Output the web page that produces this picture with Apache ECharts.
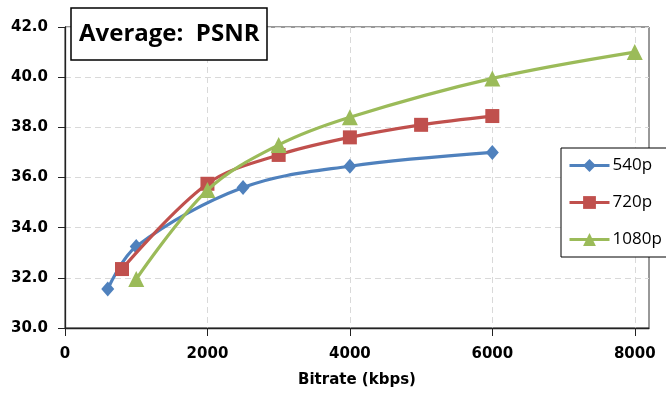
<!DOCTYPE html>
<html>
<head>
<meta charset="utf-8">
<script src="https://cdn.jsdelivr.net/npm/echarts@6/dist/echarts.min.js"></script>
<style>html,body{margin:0;padding:0;background:#fff;}#c{width:666px;height:393px;}</style>
</head>
<body>
<div id="c"></div>
<script>
var seriesNames = ['540p', '720p', '1080p'];
var bitrate540 = [600, 1000, 2500, 4000, 6000];
var psnr540 = [31.55, 33.25, 35.6, 36.45, 37.0];
var bitrate720 = [800, 2000, 3000, 4000, 5000, 6000];
var psnr720 = [32.35, 35.75, 36.9, 37.6, 38.1, 38.45];
var bitrate1080 = [1000, 2000, 3000, 4000, 6000, 8000];
var psnr1080 = [31.95, 35.5, 37.3, 38.4, 39.95, 41.0];
var xTicks = [0, 2000, 4000, 6000, 8000];
var titleText = 'Average:  PSNR';
var xName = 'Bitrate (kbps)';

function pairs(xs, ys) { return xs.map(function (x, i) { return [x, ys[i]]; }); }

var FONT = '"Open Sans", "Noto Sans", sans-serif';
var AXFONT = '"DejaVu Sans", sans-serif';
var chart = echarts.init(document.getElementById('c'), null, { renderer: 'canvas' });
var colors = ['#4F81BD', '#C0504D', '#9BBB59'];
var symbols = ['diamond', 'rect', 'triangle'];
var sizes = [[13, 15], 14, 16];
var datas = [pairs(bitrate540, psnr540), pairs(bitrate720, psnr720), pairs(bitrate1080, psnr1080)];

chart.setOption({
  animation: false,
  backgroundColor: '#fff',
  title: {
    text: titleText,
    left: 71, top: 8,
    padding: [12, 8, 12, 8],
    borderColor: '#000', borderWidth: 1.5,
    backgroundColor: '#fff',
    textStyle: { fontFamily: FONT, fontWeight: 'bold', fontSize: 24, color: '#000', lineHeight: 28 },
    z: 10
  },
  legend: {
    orient: 'vertical',
    left: 561, top: 148,
    padding: [9, 40, 9, 7],
    itemWidth: 40, itemHeight: 16, itemGap: 20,
    borderColor: '#000', borderWidth: 1,
    backgroundColor: '#fff',
    lineStyle: { width: 3 },
    textStyle: { fontFamily: FONT, fontSize: 17, color: '#000', padding: [0, 0, 0, -2] },
    data: seriesNames,
    z: 10
  },
  grid: {
    left: 65, top: 27, right: 17, bottom: 65,
    show: true, borderColor: '#333', borderWidth: 1, backgroundColor: 'transparent'
  },
  xAxis: {
    type: 'value', min: 0, max: 8200, interval: 2000,
    name: xName, nameLocation: 'middle', nameGap: 45,
    nameTextStyle: { fontFamily: AXFONT, fontWeight: 'bold', fontSize: 15, color: '#000' },
    axisLine: { show: true, lineStyle: { color: '#222', width: 1.3 } },
    axisTick: { show: true, length: 8, lineStyle: { color: '#222' }, customValues: xTicks },
    axisLabel: { fontFamily: AXFONT, fontWeight: 'bold', fontSize: 15, color: '#000', margin: 19,
      customValues: xTicks, formatter: function (v) { return String(v); } },
    splitLine: { show: true, lineStyle: { color: '#D9D9D9', type: [6, 4], width: 1 } }
  },
  yAxis: {
    type: 'value', min: 30, max: 42, interval: 2,
    axisLine: { show: true, lineStyle: { color: '#222', width: 1.3 } },
    axisTick: { show: true, length: 7, lineStyle: { color: '#222' } },
    axisLabel: { fontFamily: AXFONT, fontWeight: 'bold', fontSize: 15, color: '#000', margin: 17,
      formatter: function (v) { return v.toFixed(1); } },
    splitLine: { show: true, lineStyle: { color: '#D9D9D9', type: [6, 4], width: 1 } }
  },
  series: seriesNames.map(function (n, i) {
    return {
      name: n, type: 'line', data: datas[i],
      smooth: 0.35,
      symbol: symbols[i], symbolSize: sizes[i],
      showAllSymbol: true,
      lineStyle: { color: colors[i], width: 3.2 },
      itemStyle: { color: colors[i] },
      z: 3 + i
    };
  })
});
</script>
</body>
</html>
